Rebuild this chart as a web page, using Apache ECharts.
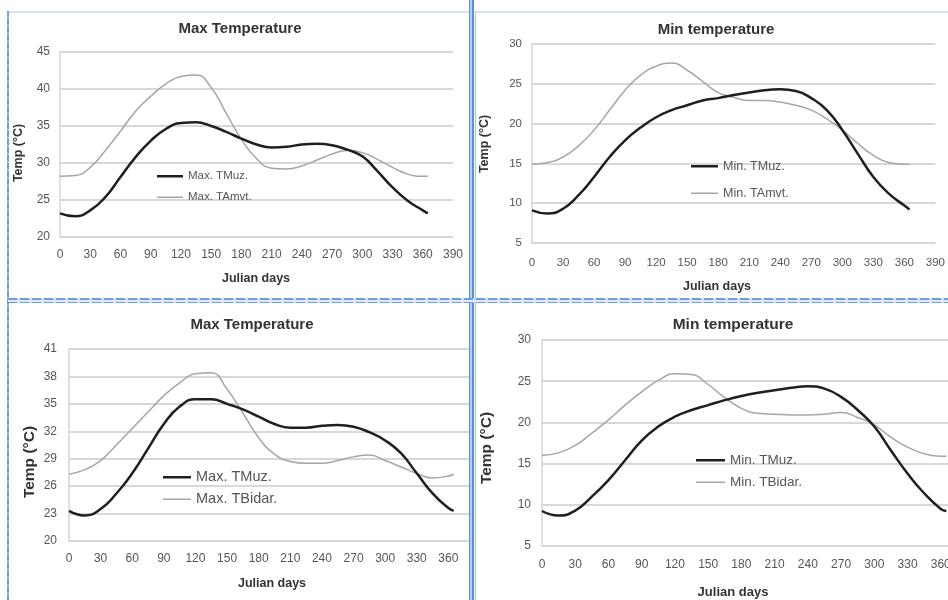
<!DOCTYPE html>
<html><head><meta charset="utf-8">
<script src="https://cdn.jsdelivr.net/npm/echarts@6/dist/echarts.min.js"></script>
<style>
html,body{margin:0;padding:0;background:#fff;width:948px;height:600px;overflow:hidden;position:relative;}
.wrap{position:absolute;overflow:hidden;}
.ln{position:absolute;}
</style></head><body>
<div class="wrap" style="left:0;top:0;width:474px;height:300px"><div id="c1" style="width:474px;height:300px"></div></div>
<div class="wrap" style="left:474px;top:0;width:474px;height:300px"><div id="c2" style="width:474px;height:300px"></div></div>
<div class="wrap" style="left:0;top:300px;width:474px;height:300px"><div id="c3" style="width:500px;height:300px"></div></div>
<div class="wrap" style="left:474px;top:300px;width:474px;height:300px"><div id="c4" style="width:530px;height:300px"></div></div>

<div class="ln" style="left:8px;top:11px;width:940px;height:2px;background:#d3e2f6"></div>
<div class="ln" style="left:7px;top:11px;width:2px;height:589px;background:repeating-linear-gradient(to bottom,#6f9ce0 0 6px,#a9c5ee 6px 8px)"></div>
<div class="ln" style="left:469px;top:0;width:5px;height:600px;background:linear-gradient(to right,#5b8fd8 0 1.5px,#b5cff2 1.5px 3.5px,#5b8fd8 3.5px 5px)"></div>
<div class="ln" style="left:8px;top:298px;width:940px;height:5px;background:repeating-linear-gradient(to right,#6d9be0 0 9px,#c8daf3 9px 12px)"></div>
<div class="ln" style="left:8px;top:299.5px;width:940px;height:2px;background:#dfeaf8"></div>
<div class="ln" style="left:475px;top:12px;width:1px;height:286px;background:#a8c4ec"></div>
<div class="ln" style="left:475px;top:303px;width:1px;height:297px;background:#a8c4ec"></div>

<script>
const DAYS = [0,15,30,45,60,75,90,105,120,135,150,165,180,195,210,225,240,255,270,285,300,315,330,345,360,365];

// Panel 1: Max Temperature (Muz vs Amvt)
const maxMuzA = [23.2,22.8,23.6,25.4,28.1,30.8,33.0,34.6,35.4,35.5,35.0,34.2,33.3,32.5,32.1,32.2,32.5,32.6,32.4,31.8,30.9,28.9,26.7,24.9,23.6,23.2];
const maxAmvt = [28.2,28.3,29.4,31.7,34.3,37.0,39.0,40.7,41.7,41.9,40.2,36.7,33.2,30.6,29.3,29.2,29.6,30.4,31.2,31.7,31.4,30.5,29.4,28.5,28.2,28.2];
// Panel 2: Min temperature (Muz vs Amvt)
const minMuzA = [9.1,8.7,9.3,11.0,13.3,15.8,17.9,19.5,20.8,21.7,22.3,22.9,23.2,23.6,23.9,24.2,24.3,24.1,23.2,21.7,19.2,16.2,13.3,11.2,9.7,9.2];
const minAmvt = [14.9,15.1,15.8,17.2,19.2,21.7,24.2,26.1,27.2,27.6,26.7,25.3,23.9,23.3,22.9,22.9,22.7,22.3,21.7,20.6,19.2,17.5,16.0,15.1,14.9,14.9];
// Panel 3: Max Temperature (Muz vs Bidar)
const maxMuzB = [23.3,22.8,23.5,25.2,27.4,30.1,32.8,34.7,35.5,35.5,35.0,34.4,33.6,32.8,32.4,32.4,32.6,32.7,32.5,31.9,31.0,29.6,27.4,25.2,23.6,23.3];
const maxBidar = [27.3,27.8,28.8,30.5,32.3,34.1,35.9,37.3,38.3,38.4,36.6,34.0,31.3,29.5,28.7,28.5,28.5,28.8,29.2,29.4,28.8,28.1,27.4,26.9,27.1,27.3];
// Panel 4: Min temperature (Muz vs Bidar)
const minMuzB = [9.25,8.7,9.3,11.0,13.0,15.4,17.8,19.5,20.7,21.5,22.1,22.7,23.2,23.6,23.9,24.2,24.4,24.1,23.1,21.5,19.5,16.6,13.8,11.4,9.5,9.25];
const minBidar = [16.0,16.3,17.2,18.7,20.3,22.1,23.7,25.1,25.9,25.8,24.6,23.0,21.7,21.1,21.0,20.9,20.9,21.0,21.2,20.6,19.7,18.2,17.0,16.2,15.9,15.9];

const Y_TICKS_1 = [20,25,30,35,40,45];
const Y_TICKS_2 = [5,10,15,20,25,30];
const Y_TICKS_3 = [20,23,26,29,32,35,38,41];
const Y_TICKS_4 = [5,10,15,20,25,30];
const X_MIN = 0, X_MAX = 390, X_STEP = 30;

const FONT = '"Liberation Sans", Arial, sans-serif';
const BLACK = '#1f1f1f', GREY = '#a6a6a6';
const pairs = ys => DAYS.map((d, i) => [d, ys[i]]);

function txt(x, y, text, size, rot) {
  return {type:'text', x:x, y:y, rotation: rot || 0, z:100,
    style:{text:text, fontFamily:FONT, fontWeight:'bold', fontSize:size, fill:'#333', align:'center', verticalAlign:'middle'}};
}

function legendRow(left, cy, fs, w, h, name, color) {
  return {orient:'horizontal', left:left, top:cy - fs/2, padding:0, icon:'rect',
    itemWidth:w, itemHeight:h, itemGap:0, selectedMode:false,
    itemStyle:{color:color, borderWidth:0},
    textStyle:{color:'#555', fontSize:fs, fontFamily:FONT},
    data:[name]};
}

function build(p) {
  return {
    animation:false,
    textStyle:{fontFamily:FONT},
    grid:{left:p.grid[0], top:p.grid[1], right:p.grid[2], bottom:p.grid[3]},
    xAxis:{type:'value', min:X_MIN, max:X_MAX, interval:X_STEP,
      axisLine:{show:false}, axisTick:{show:false},
      axisLabel:{color:'#555', fontSize:p.xfs, margin:p.xm, fontFamily:FONT},
      splitLine:{show:false}},
    yAxis:{type:'value', min:p.yt[0], max:p.yt[p.yt.length-1],
      axisLine:{show:true, lineStyle:{color:'#d4d4d4', width:1.5}},
      axisTick:{show:false, customValues:p.yt},
      axisLabel:{color:'#555', fontSize:p.yfs, margin:p.ym, fontFamily:FONT, customValues:p.yt},
      splitLine:{show:true, lineStyle:{color:'#d8d8d8', width:2}}},
    legend:[
      legendRow(p.lg[0], p.lg[1], p.lfs, p.lg[3], 2.5, p.names[0], BLACK),
      legendRow(p.lg[0], p.lg[2], p.lfs, p.lg[3], 1.5, p.names[1], GREY)
    ],
    series:[
      {type:'line', name:p.names[0], data:pairs(p.d1), smooth:true, symbol:'none', z:3,
       lineStyle:{color:BLACK, width:2.5}, itemStyle:{color:BLACK}},
      {type:'line', name:p.names[1], data:pairs(p.d2), smooth:true, symbol:'none', z:2,
       lineStyle:{color:GREY, width:1.5}, itemStyle:{color:GREY}}
    ],
    graphic:[
      txt(p.t[0], p.t[1], p.title, p.tfs),
      txt(p.xn[0], p.xn[1], 'Julian days', p.xnfs),
      txt(p.yn[0], p.yn[1], p.ynText, p.ynfs, Math.PI/2)
    ]
  };
}

const panels = [
  {id:'c1', grid:[60,52,21,63], yt:Y_TICKS_1, xfs:12, yfs:12, xm:12, ym:10,
   lg:[157,176,197,26], lfs:11.5, names:['Max. TMuz.','Max. TAmvt.'], d1:maxMuzA, d2:maxAmvt,
   title:'Max Temperature', tfs:15, t:[240,29], xn:[256,279], xnfs:12.5, yn:[19,153], ynText:'Temp (°C)', ynfs:12.5},
  {id:'c2', grid:[58,44,8,57], yt:Y_TICKS_2, xfs:11.5, yfs:11.5, xm:14, ym:10,
   lg:[217,166,193,27], lfs:12.5, names:['Min. TMuz.','Min. TAmvt.'], d1:minMuzA, d2:minAmvt,
   title:'Min temperature', tfs:15, t:[242,30], xn:[243,287], xnfs:12.5, yn:[11,144], ynText:'Temp (°C)', ynfs:12.5},
  {id:'c3', grid:[69,49,20,59], yt:Y_TICKS_3, xfs:12, yfs:12, xm:12, ym:12,
   lg:[163,177,199,28], lfs:14.5, names:['Max. TMuz.','Max. TBidar.'], d1:maxMuzB, d2:maxBidar,
   title:'Max Temperature', tfs:15, t:[252,25], xn:[272,284], xnfs:12.5, yn:[30,162], ynText:'Temp (°C)', ynfs:15.5},
  {id:'c4', grid:[68,40,30,54], yt:Y_TICKS_4, xfs:12, yfs:12, xm:13, ym:11,
   lg:[222,160,182,29], lfs:13.5, names:['Min. TMuz.','Min. TBidar.'], d1:minMuzB, d2:minBidar,
   title:'Min temperature', tfs:15.5, t:[259,25], xn:[259,292], xnfs:13, yn:[13,148], ynText:'Temp (°C)', ynfs:15.5}
];

panels.forEach(p => {
  const c = echarts.init(document.getElementById(p.id), null, {renderer:'canvas'});
  c.setOption(build(p));
});
</script>
</body></html>
